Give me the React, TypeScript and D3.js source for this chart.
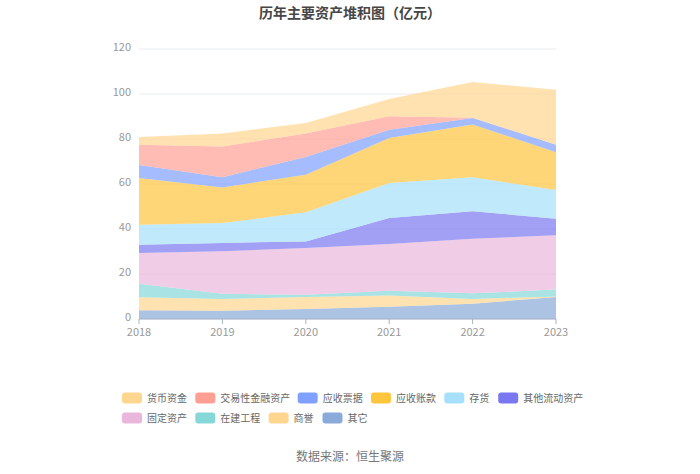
import * as d3 from "d3";

const years = ["2018", "2019", "2020", "2021", "2022", "2023"];

// legend order (top of stack first)
const seriesNames = [
  "货币资金",
  "交易性金融资产",
  "应收票据",
  "应收账款",
  "存货",
  "其他流动资产",
  "固定资产",
  "在建工程",
  "商誉",
  "其它",
];

const seriesColors = [
  "#ffd68f",
  "#ff9f94",
  "#7fa0ff",
  "#ffc53d",
  "#a6e0fb",
  "#7a78f0",
  "#e9b7dc",
  "#85d7d8",
  "#ffd68f",
  "#8aaad9",
];

// 亿元, per year 2018..2023
const huobi = [3.4, 5.7, 4.6, 7.7, 15.8, 24.4];
const jiaoyi = [9.1, 13.7, 10.5, 6.0, 0.2, 0];
const piaoju = [5.7, 4.5, 7.9, 3.7, 2.9, 3.4];
const zhangkuan = [20.8, 15.8, 16.7, 20.0, 23.4, 16.8];
const cunhuo = [8.9, 8.9, 12.9, 15.5, 15.1, 12.7];
const qitaLiudong = [3.7, 3.7, 2.9, 11.6, 12.2, 7.4];
const guding = [13.6, 18.9, 20.8, 20.7, 24.3, 24.1];
const zaijian = [6.0, 2.3, 1.0, 2.2, 2.5, 3.1];
const shangyu = [5.8, 5.2, 5.4, 5.0, 2.1, 0.2];
const qita = [3.9, 3.7, 4.4, 5.4, 6.8, 9.8];

const seriesValues = [
  huobi,
  jiaoyi,
  piaoju,
  zhangkuan,
  cunhuo,
  qitaLiudong,
  guding,
  zaijian,
  shangyu,
  qita,
];

const yTicks = [0, 20, 40, 60, 80, 100, 120];

const width = 700;
const height = 474;
const margin = { top: 49, right: 144, bottom: 155, left: 139 };
const font = "'Noto Sans CJK SC', 'Noto Sans', sans-serif";

export default function App() {
  const rows = years.map((y, i) => {
    const row: Record<string, number | string> = { year: y };
    seriesNames.forEach((n, k) => (row[n] = seriesValues[k][i]));
    return row;
  });

  // bottom of stack is the last legend item
  const keys = [...seriesNames].reverse();
  const stacked = d3.stack<Record<string, number | string>>().keys(keys)(rows);

  const x = d3
    .scalePoint()
    .domain(years)
    .range([margin.left, width - margin.right]);
  const y = d3
    .scaleLinear()
    .domain([0, 120])
    .range([height - margin.bottom, margin.top]);

  const area = d3
    .area<d3.SeriesPoint<Record<string, number | string>>>()
    .x((d) => x(d.data.year as string)!)
    .y0((d) => y(d[0]))
    .y1((d) => y(d[1]));

  const colorOf = (name: string) => seriesColors[seriesNames.indexOf(name)];

  // legend layout: two rows, wrapping
  const charW = 9.7;
  const legendItems: { name: string; x: number; y: number }[] = [];
  let lx = 122;
  let ly = 398;
  seriesNames.forEach((n, i) => {
    if (i === 6) {
      lx = 122;
      ly = 418;
    }
    legendItems.push({ name: n, x: lx, y: ly });
    lx += 20 + 5 + n.length * charW + 9.5;
  });

  return (
    <div style={{ position: "absolute", left: 0, top: 0 }}>
      <svg width={width} height={height} style={{ fontFamily: font, display: "block" }}>
        <rect width={width} height={height} fill="#fff" />
        <text
          x={350}
          y={18}
          textAnchor="middle"
          fontSize={14}
          fontWeight="bold"
          fill="#464646"
        >
          历年主要资产堆积图（亿元）
        </text>

        {yTicks.map((t) => (
          <g key={t}>
            <line
              x1={margin.left}
              x2={width - margin.right}
              y1={y(t)}
              y2={y(t)}
              stroke="#e8ebf2"
            />
            <text
              x={margin.left - 8}
              y={y(t) - 1.5}
              dy="0.32em"
              textAnchor="end"
              fontSize={11}
              fill="#999"
            >
              {t}
            </text>
          </g>
        ))}

        {stacked.map((s) => (
          <path
            key={s.key}
            d={area(s) || ""}
            fill={colorOf(s.key)}
            fillOpacity={0.7}
          />
        ))}

        <line
          x1={margin.left}
          x2={width - margin.right}
          y1={y(0)}
          y2={y(0)}
          stroke="#a9b3c6"
        />
        {years.map((yr) => (
          <g key={yr}>
            <line
              x1={x(yr)}
              x2={x(yr)}
              y1={y(0)}
              y2={y(0) + 5}
              stroke="#a9b3c6"
            />
            <text
              x={x(yr)}
              y={y(0) + 17}
              textAnchor="middle"
              fontSize={11}
              fill="#999"
            >
              {yr}
            </text>
          </g>
        ))}

        {legendItems.map((it) => (
          <g key={it.name}>
            <rect
              x={it.x}
              y={it.y - 5.5}
              width={20}
              height={11}
              rx={3}
              fill={colorOf(it.name)}
            />
            <text
              x={it.x + 25}
              y={it.y}
              dy="0.35em"
              fontSize={10}
              fill="#666"
            >
              {it.name}
            </text>
          </g>
        ))}

        <text x={350} y={461} textAnchor="middle" fontSize={12} fill="#777">
          数据来源：恒生聚源
        </text>
      </svg>
    </div>
  );
}
